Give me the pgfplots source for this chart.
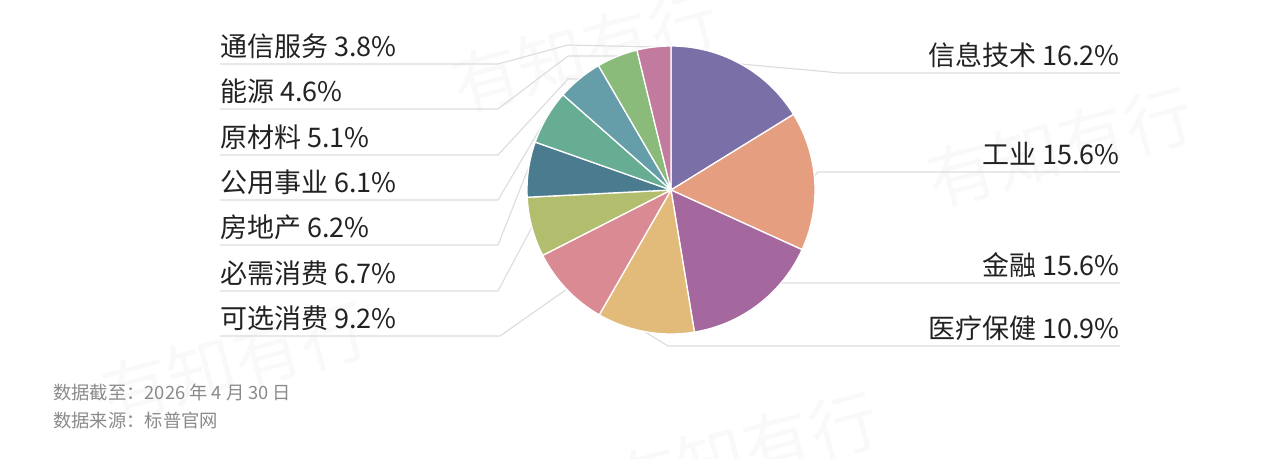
\documentclass[border=0pt]{standalone}
\usepackage{fontspec}
\setmainfont{Noto Sans CJK SC}
\usepackage{pgfplots}
\pgfplotsset{compat=1.18}

% slice colours
\definecolor{cIT}{HTML}{7A6FA7}
\definecolor{cInd}{HTML}{E69E80}
\definecolor{cFin}{HTML}{A4689E}
\definecolor{cHea}{HTML}{E2BB7B}
\definecolor{cDis}{HTML}{DA8A92}
\definecolor{cSta}{HTML}{B2BE6D}
\definecolor{cRea}{HTML}{4A7B8E}
\definecolor{cUti}{HTML}{66AD94}
\definecolor{cMat}{HTML}{659DA8}
\definecolor{cEne}{HTML}{8ABB7A}
\definecolor{cCom}{HTML}{C27A9F}
\definecolor{lab}{HTML}{222222}
\definecolor{lead}{HTML}{DCDCDC}
\definecolor{note}{HTML}{8A8A8A}
\definecolor{wm}{HTML}{F9F9F9}

\begin{document}
\begin{tikzpicture}
\begin{axis}[
    width=1280pt, height=458pt, scale only axis,
    xmin=0, xmax=1280, ymin=0, ymax=458, y dir=reverse,
    hide axis, clip=false,
]
\tikzset{ld/.style={lead, line width=1.1pt, mark=none}}
% watermark
\node[wm, rotate=15, font=\fontsize{68}{68}\selectfont] at (axis cs:585,52) {有知有行};
\node[wm, rotate=15, font=\fontsize{68}{68}\selectfont] at (axis cs:1060,147) {有知有行};
\node[wm, rotate=15, font=\fontsize{68}{68}\selectfont] at (axis cs:235,362) {有知有行};
\node[wm, rotate=15, font=\fontsize{68}{68}\selectfont] at (axis cs:745,452) {有知有行};

% leader lines, left
\addplot[ld] coordinates {(220,64) (498,64) (568,45) (654,47)};
\addplot[ld] coordinates {(220,109) (498,109) (568,56) (617,56)};
\addplot[ld] coordinates {(220,155) (498,155) (568,79) (579,79)};
\addplot[ld] coordinates {(220,200) (498,200) (547,117)};
\addplot[ld] coordinates {(220,245) (498,245) (528,169)};
\addplot[ld] coordinates {(220,291) (498,291) (532,227)};
\addplot[ld] coordinates {(220,336) (500,336) (567,289)};
% leader lines, right
\addplot[ld] coordinates {(741,64) (840,73) (1120,73)};
\addplot[ld] coordinates {(814,176) (818,172) (1120,172)};
\addplot[ld] coordinates {(758,304) (781,283) (1120,283)};
\addplot[ld] coordinates {(645,332) (668,346) (1120,346)};

% pie, clockwise from 12 o'clock
\gdef\cum{0}
\foreach \v/\c in {16.2/cIT, 15.6/cInd, 15.6/cFin, 10.9/cHea, 9.2/cDis,
                   6.7/cSta, 6.2/cRea, 6.1/cUti, 5.1/cMat, 4.6/cEne, 3.8/cCom} {
  \pgfmathsetmacro{\a}{90-3.6*\cum}
  \pgfmathsetmacro{\b}{\a-3.6*\v}
  \edef\temp{\noexpand\fill[\c, draw=white, line width=1.3pt, line join=round]
    (axis cs:671,190) -- ++(\a:144pt) arc[start angle=\a, end angle=\b, radius=144pt] -- cycle;}
  \temp
  \pgfmathsetmacro{\n}{\cum+\v}
  \xdef\cum{\n}
}

% labels
\tikzset{lbl/.style={lab, font=\fontsize{27}{27}\selectfont, inner sep=0pt}}
\node[lbl, anchor=base west] at (axis cs:220,56) {通信服务 3.8\%};
\node[lbl, anchor=base west] at (axis cs:220,101) {能源 4.6\%};
\node[lbl, anchor=base west] at (axis cs:220,147) {原材料 5.1\%};
\node[lbl, anchor=base west] at (axis cs:220,192) {公用事业 6.1\%};
\node[lbl, anchor=base west] at (axis cs:220,237) {房地产 6.2\%};
\node[lbl, anchor=base west] at (axis cs:220,283) {必需消费 6.7\%};
\node[lbl, anchor=base west] at (axis cs:220,328) {可选消费 9.2\%};
\node[lbl, anchor=base east] at (axis cs:1120,65) {信息技术 16.2\%};
\node[lbl, anchor=base east] at (axis cs:1120,164) {工业 15.6\%};
\node[lbl, anchor=base east] at (axis cs:1120,275) {金融 15.6\%};
\node[lbl, anchor=base east] at (axis cs:1120,338) {医疗保健 10.9\%};

% notes
\node[note, anchor=base west, inner sep=0pt, font=\fontsize{18.3}{18.3}\selectfont]
  at (axis cs:53,399) {数据截至：2026 年 4 月 30 日};
\node[note, anchor=base west, inner sep=0pt, font=\fontsize{18.3}{18.3}\selectfont]
  at (axis cs:53,427) {数据来源：标普官网};
\end{axis}
\pgfresetboundingbox
\useasboundingbox (0,0) rectangle (1280pt,458pt);
\end{tikzpicture}
\end{document}
